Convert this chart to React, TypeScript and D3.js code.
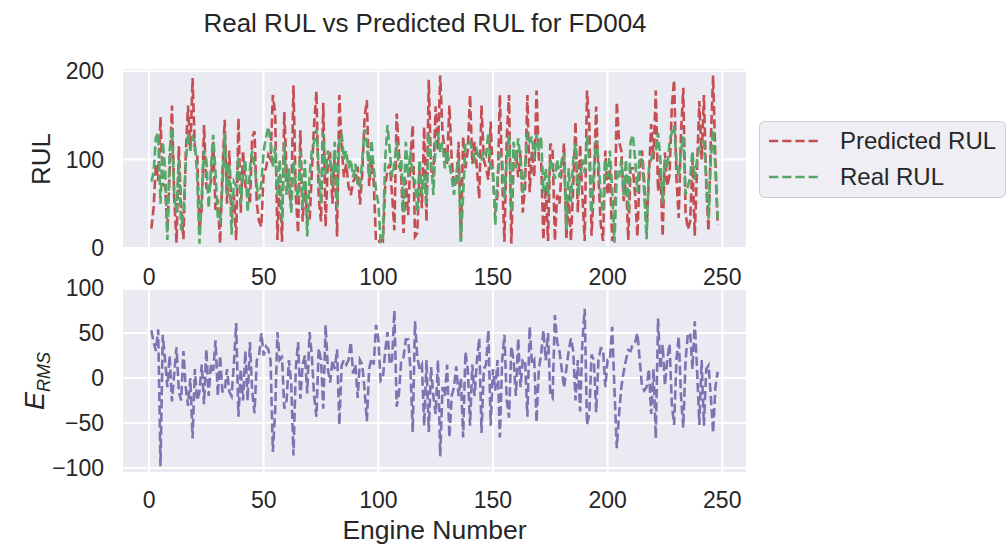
import React from "react";
import * as d3 from "d3";

const realRUL: number[] = [
  75,85,125,130,50,120,90,9,110,135,
  60,40,100,20,40,95,130,110,125,120,
  80,5,60,110,100,45,90,128,85,35,
  30,70,130,60,95,15,75,70,104,50,
  85,100,40,90,110,93,70,55,74,110,
  125,137,120,91,115,60,100,30,120,60,
  90,40,98,70,57,110,45,100,13,80,
  110,120,134,90,50,130,83,110,100,70,
  120,45,121,129,100,110,90,100,80,95,
  70,69,100,134,119,80,122,90,66,50,
  7,8,100,139,110,80,95,120,90,100,
  40,120,80,110,79,76,40,100,60,84,
  50,130,100,60,120,130,108,120,90,110,
  95,80,60,85,100,7,60,119,120,120,
  110,100,110,100,100,110,105,130,90,90,
  26,80,107,100,55,100,129,40,120,90,
  124,100,60,90,130,120,126,100,129,110,
  126,62,90,58,100,90,78,100,80,100,
  107,20,90,52,100,118,60,80,100,85,
  126,100,40,90,122,100,60,40,100,80,
  110,65,6,87,80,100,60,100,40,120,
  128,100,63,110,100,60,10,90,100,110,
  111,130,100,50,100,90,120,131,138,100,
  80,110,126,60,70,80,110,77,100,114,
  120,120,80,33,100,134,90,33,
];

const predictedRUL: number[] = [
  22,45,95,76,148,72,70,19,85,161,
  55,6,115,45,10,105,161,110,192,110,
  105,20,45,139,68,65,75,120,43,55,
  5,85,145,50,110,35,60,9,147,40,
  110,70,65,50,125,132,50,30,24,85,
  90,105,100,173,152,9,80,7,154,85,
  70,45,184,60,17,133,30,75,30,29,
  85,140,177,57,30,164,24,100,105,50,
  110,13,173,115,80,95,70,60,75,80,
  92,49,85,147,167,70,100,75,7,7,
  10,8,70,88,95,60,20,152,107,80,
  17,77,37,100,139,13,17,90,45,137,
  30,190,88,80,160,110,195,130,110,95,
  161,100,70,72,120,7,126,90,110,173,
  95,120,90,56,161,100,90,77,143,80,
  40,60,173,80,7,124,173,5,100,110,
  80,110,40,70,173,63,110,80,178,100,
  100,9,70,8,118,112,8,60,50,90,
  118,10,60,8,70,143,40,117,60,8,
  178,140,14,70,160,80,27,8,110,60,
  90,8,20,165,120,110,53,80,9,90,
  90,60,13,90,110,74,20,80,140,100,
  178,64,90,13,108,70,82,160,190,80,
  34,130,181,40,21,30,100,14,90,166,
  100,173,70,19,120,195,100,26,
];

const errorRMS: number[] = [
  53,40,30,54,-98,48,20,-10,25,-26,
  5,34,-15,-25,30,-10,-31,0,-67,10,
  -25,-15,15,-29,32,-20,15,8,42,-20,
  25,-15,-15,10,-15,-20,15,61,-43,10,
  -25,30,-25,40,-15,-39,20,25,50,25,
  35,32,20,-82,-37,51,20,23,-34,-25,
  20,-5,-86,10,40,-23,15,25,-17,51,
  25,-20,-43,33,20,-34,59,10,-5,20,
  10,32,-52,14,20,15,20,40,5,15,
  -22,20,15,-13,-48,10,22,15,59,43,
  -3,0,30,51,15,20,75,-32,-17,20,
  23,43,43,10,-60,63,23,10,15,-53,
  20,-60,12,-20,-40,20,-87,-10,-20,15,
  -66,-20,-10,13,-20,0,-66,29,10,-53,
  15,-20,20,44,-61,10,15,53,-53,10,
  -14,20,-66,20,48,-24,-44,35,20,-20,
  44,-10,20,20,-43,57,16,20,-49,10,
  26,53,20,50,-18,-22,70,40,30,10,
  -11,10,30,44,30,-25,20,-37,40,77,
  -52,-40,26,20,-38,20,33,32,-10,20,
  20,57,-14,-78,-40,-10,7,20,31,30,
  38,40,50,20,-10,-14,-10,10,-40,10,
  -67,66,10,37,-8,20,38,-29,-52,20,
  46,-20,-55,20,49,50,10,63,10,-52,
  20,-53,10,14,-20,-61,-10,7,
];

const xTicks = [0, 50, 100, 150, 200, 250];
const topYTicks = [0, 100, 200];
const bottomYTicks = [-100, -50, 0, 50, 100];
const legendLabels = ["Predicted RUL", "Real RUL"];

const FONT = "'Liberation Sans', Arial, sans-serif";
const TEXT = "#262626";
const BG = "#EAEAF2";
const RED = "#C44E52";
const GREEN = "#55A868";
const PURPLE = "#8172B2";

export default function App() {
  const left = 123, right = 746;
  const n = realRUL.length;
  const pad = (n - 1) * 0.05;
  const x = d3.scaleLinear().domain([1 - pad, n + pad]).range([left, right]);

  const topT = 69, topB = 249;
  const yTop = d3.scaleLinear().domain([-1.1, 202.3]).range([topB, topT]);
  const botT = 290, botB = 472;
  const yBot = d3.scaleLinear().domain([-104.4, 97.8]).range([botB, botT]);

  const lineTop = d3.line<number>().x((_, i) => x(i + 1)).y((d) => yTop(d));
  const lineBot = d3.line<number>().x((_, i) => x(i + 1)).y((d) => yBot(d));

  const dash = "9.2,4";
  const lw = 2.6;

  return (
    <svg width={1008} height={548} style={{ position: "absolute", left: 0, top: 0, background: "#fff" }} fontFamily={FONT}>
      <text x={425} y={32} textAnchor="middle" fontSize={26} fill={TEXT}>Real RUL vs Predicted RUL for FD004</text>

      {/* Top axes */}
      <rect x={left} y={topT} width={right - left} height={topB - topT} fill={BG} />
      {xTicks.map((t) => (
        <line key={"tv" + t} x1={x(t)} x2={x(t)} y1={topT} y2={topB} stroke="#fff" strokeWidth={2} />
      ))}
      {topYTicks.map((t) => (
        <line key={"th" + t} x1={left} x2={right} y1={yTop(t)} y2={yTop(t)} stroke="#fff" strokeWidth={2} />
      ))}
      <path d={lineTop(predictedRUL) || ""} fill="none" stroke={RED} strokeWidth={lw} strokeDasharray={dash} />
      <path d={lineTop(realRUL) || ""} fill="none" stroke={GREEN} strokeWidth={lw} strokeDasharray={dash} />
      {xTicks.map((t) => (
        <text key={"tx" + t} x={x(t)} y={285} textAnchor="middle" fontSize={23} fill={TEXT}>{t}</text>
      ))}
      {topYTicks.map((t) => (
        <text key={"ty" + t} x={104} y={yTop(t) + 8} textAnchor="end" fontSize={23} fill={TEXT}>{t}</text>
      ))}
      <text transform={`translate(50,${(topT + topB) / 2}) rotate(-90)`} textAnchor="middle" fontSize={26} fill={TEXT}>RUL</text>

      {/* Bottom axes */}
      <rect x={left} y={botT} width={right - left} height={botB - botT} fill={BG} />
      {xTicks.map((t) => (
        <line key={"bv" + t} x1={x(t)} x2={x(t)} y1={botT} y2={botB} stroke="#fff" strokeWidth={2} />
      ))}
      {bottomYTicks.map((t) => (
        <line key={"bh" + t} x1={left} x2={right} y1={yBot(t)} y2={yBot(t)} stroke="#fff" strokeWidth={2} />
      ))}
      <path d={lineBot(errorRMS) || ""} fill="none" stroke={PURPLE} strokeWidth={lw} strokeDasharray={dash} />
      {xTicks.map((t) => (
        <text key={"bx" + t} x={x(t)} y={508} textAnchor="middle" fontSize={23} fill={TEXT}>{t}</text>
      ))}
      {bottomYTicks.map((t) => (
        <text key={"by" + t} x={104} y={yBot(t) + 8} textAnchor="end" fontSize={23} fill={TEXT}>{t < 0 ? "\u2212" + Math.abs(t) : t}</text>
      ))}
      <text transform={`translate(44,${(botT + botB) / 2}) rotate(-90)`} textAnchor="middle" fontSize={27} fill={TEXT}>
        <tspan fontStyle="italic">E</tspan>
        <tspan fontStyle="italic" fontSize={18} dy={6}>RMS</tspan>
      </text>
      <text x={(left + right) / 2} y={539} textAnchor="middle" fontSize={26.5} fill={TEXT}>Engine Number</text>

      {/* Legend */}
      <rect x={759.5} y={121.5} width={246} height={76} rx={5} fill="#EEEEF4" stroke="#CCCCCC" strokeWidth={1} />
      {legendLabels.map((lab, i) => (
        <g key={lab}>
          <line x1={769} x2={818} y1={141 + i * 36} y2={141 + i * 36} stroke={i === 0 ? RED : GREEN} strokeWidth={lw} strokeDasharray={dash} />
          <text x={840} y={149 + i * 36} fontSize={24} fill={TEXT}>{lab}</text>
        </g>
      ))}
    </svg>
  );
}
